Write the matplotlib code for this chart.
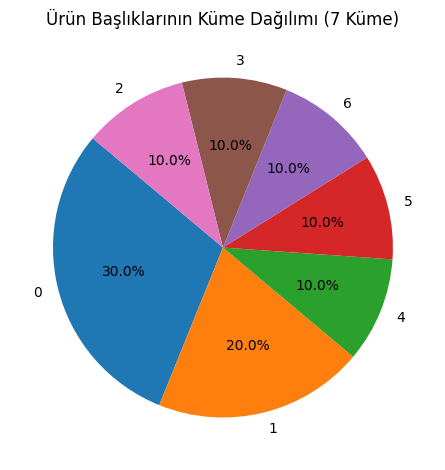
import matplotlib.pyplot as plt

cluster_labels = ['0', '1', '4', '5', '6', '3', '2']
cluster_counts = [3, 2, 1, 1, 1, 1, 1]

fig = plt.figure(figsize=(4.45, 4.7), dpi=100)
ax = fig.add_axes([0.0235, 0.0213, 0.955, 0.904])
ax.pie(cluster_counts, labels=cluster_labels, autopct='%1.1f%%', startangle=140)
ax.set_title('Ürün Başlıklarının Küme Dağılımı (7 Küme)', pad=7.5)
fig.savefig('out.png', dpi=100)
